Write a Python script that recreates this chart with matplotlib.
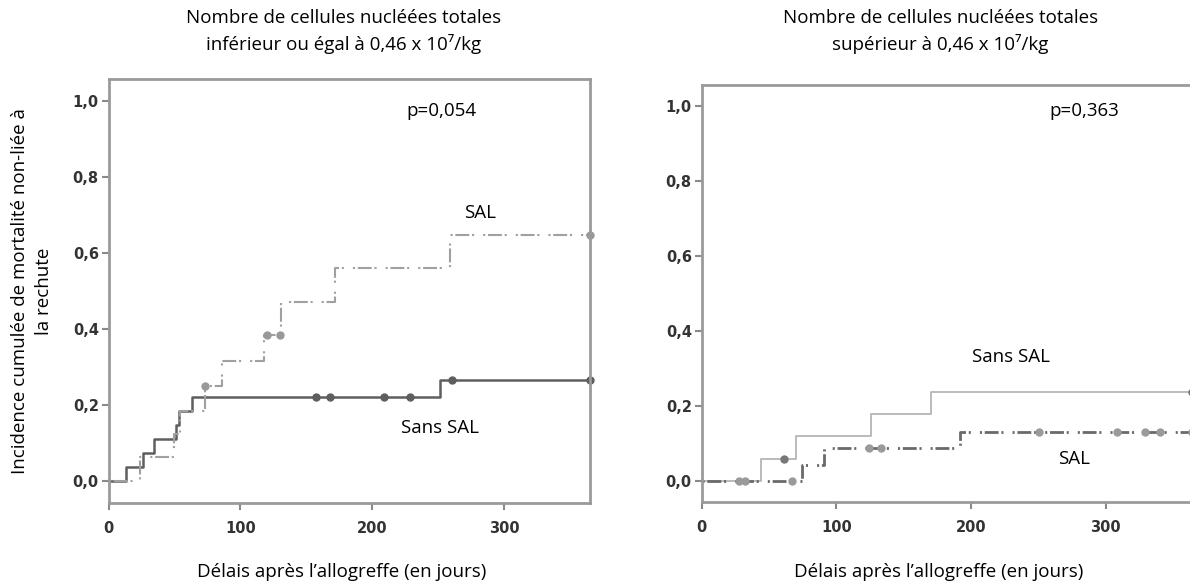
import numpy as np
import matplotlib
matplotlib.use("Agg")
import matplotlib.pyplot as plt

plt.rcParams['lines.scale_dashes'] = False

# left panel: <= 0.46 x 10^7/kg
left_sans_t = [0, 13.5, 26, 34.5, 51.5, 53.5, 63, 251, 365]
left_sans_y = [0, 0.037, 0.074, 0.111, 0.148, 0.185, 0.222, 0.267, 0.267]
left_sans_cens = [157, 168, 208.5, 228.5, 260.5, 365]

left_sal_t = [0, 24, 50, 54, 73, 86, 117.5, 130.5, 172, 258.5, 365]
left_sal_y = [0, 0.065, 0.125, 0.186, 0.25, 0.317, 0.385, 0.472, 0.56, 0.648, 0.648]
left_sal_cens = [73.5, 120, 130, 365]

# right panel: > 0.46 x 10^7/kg
right_sans_t = [0, 44.5, 70.5, 125.5, 170.5, 365]
right_sans_y = [0, 0.059, 0.118, 0.177, 0.236, 0.236]
right_sans_cens = [61.5, 364]

right_sal_t = [0, 74.5, 91, 192, 365]
right_sal_y = [0, 0.043, 0.087, 0.13, 0.13]
right_sal_cens = [28, 32, 67, 124, 133.5, 250.5, 308.5, 329.5, 340, 364]

yticks = [0.0, 0.2, 0.4, 0.6, 0.8, 1.0]
xticks = [0, 100, 200, 300]

titles = ["Nombre de cellules nucléées totales\ninférieur ou égal à 0,46 x 10⁷/kg",
          "Nombre de cellules nucléées totales\nsupérieur à 0,46 x 10⁷/kg"]
pvals = ["p=0,054", "p=0,363"]
xlabel = "Délais après l’allogreffe (en jours)"
ylabel = "Incidence cumulée de mortalité non-liée à\nla rechute"

txt_font = ['Open Sans', 'DejaVu Sans']
tick_font = ['Liberation Sans Narrow', 'DejaVu Sans']
fs = 13.5
dashdot = (0, (1.5, 2, 10, 2, 1.5, 6.5))


def step_at(t, y, x):
    idx = np.searchsorted(t, x, side='right') - 1
    return np.asarray(y)[idx]


def draw_curve(ax, t, y, cens, color, lw, ls, mcolor):
    ax.step(t, y, where='post', color=color, lw=lw, linestyle=ls)
    cy = step_at(t, y, cens)
    ax.plot(cens, cy, 'o', color=mcolor, ms=5, clip_on=False)


def style_axes(ax):
    ax.set_xlim(0, 365)
    ax.set_ylim(-0.056, 1.056)
    ax.set_xticks(xticks)
    ax.set_yticks(yticks)
    ax.set_xticklabels([str(v) for v in xticks])
    ax.set_yticklabels([f"{v:.1f}".replace('.', ',') for v in yticks])
    for s in ax.spines.values():
        s.set_color('#9a9a9a')
        s.set_linewidth(2)
    ax.tick_params(length=5, width=1.5, color='#8a8a8a', pad=2)
    ax.tick_params(axis='x', pad=8)
    for lab in ax.get_xticklabels() + ax.get_yticklabels():
        lab.set_family(tick_font)
        lab.set_fontweight('bold')
        lab.set_fontsize(10.5)
        lab.set_color('#333333')


fig = plt.figure(figsize=(11.9, 5.82), dpi=100)
ax1 = fig.add_axes([0.0912, 0.1363, 0.4046, 0.7275])
ax2 = fig.add_axes([0.5895, 0.1380, 0.4132, 0.7160])

draw_curve(ax1, left_sans_t, left_sans_y, left_sans_cens, '#5e5e5e', 1.8, '-', '#5e5e5e')
draw_curve(ax1, left_sal_t, left_sal_y, left_sal_cens, '#a0a0a0', 1.5, dashdot, '#999999')
draw_curve(ax2, right_sans_t, right_sans_y, right_sans_cens, '#b5b5b5', 1.3, '-', '#777777')
draw_curve(ax2, right_sal_t, right_sal_y, right_sal_cens, '#6a6a6a', 2.0, dashdot, '#9a9a9a')

style_axes(ax1)
style_axes(ax2)
ax2.spines['right'].set_visible(False)

ax1.text(252, 0.973, pvals[0], ha='center', va='center', fontsize=fs, family=txt_font)
ax2.text(284, 0.986, pvals[1], ha='center', va='center', fontsize=fs, family=txt_font)
ax1.text(282, 0.704, "SAL", ha='center', va='center', fontsize=fs, family=txt_font)
ax1.text(251, 0.141, "Sans SAL", ha='center', va='center', fontsize=fs, family=txt_font)
ax2.text(230, 0.329, "Sans SAL", ha='center', va='center', fontsize=fs, family=txt_font)
ax2.text(276.5, 0.057, "SAL", ha='center', va='center', fontsize=fs, family=txt_font)

fig.text(0.289, 0.946, titles[0], ha='center', va='center', fontsize=fs,
         family=txt_font, linespacing=1.45)
fig.text(0.790, 0.946, titles[1], ha='center', va='center', fontsize=fs,
         family=txt_font, linespacing=1.45)
fig.text(0.287, 0.018, xlabel, ha='center', va='center', fontsize=fs, family=txt_font)
fig.text(0.789, 0.018, xlabel, ha='center', va='center', fontsize=fs, family=txt_font)
fig.text(0.027, 0.5, ylabel, ha='center', va='center', rotation=90, fontsize=fs,
         family=txt_font, linespacing=1.45)

fig.savefig("out.png", dpi=100)
